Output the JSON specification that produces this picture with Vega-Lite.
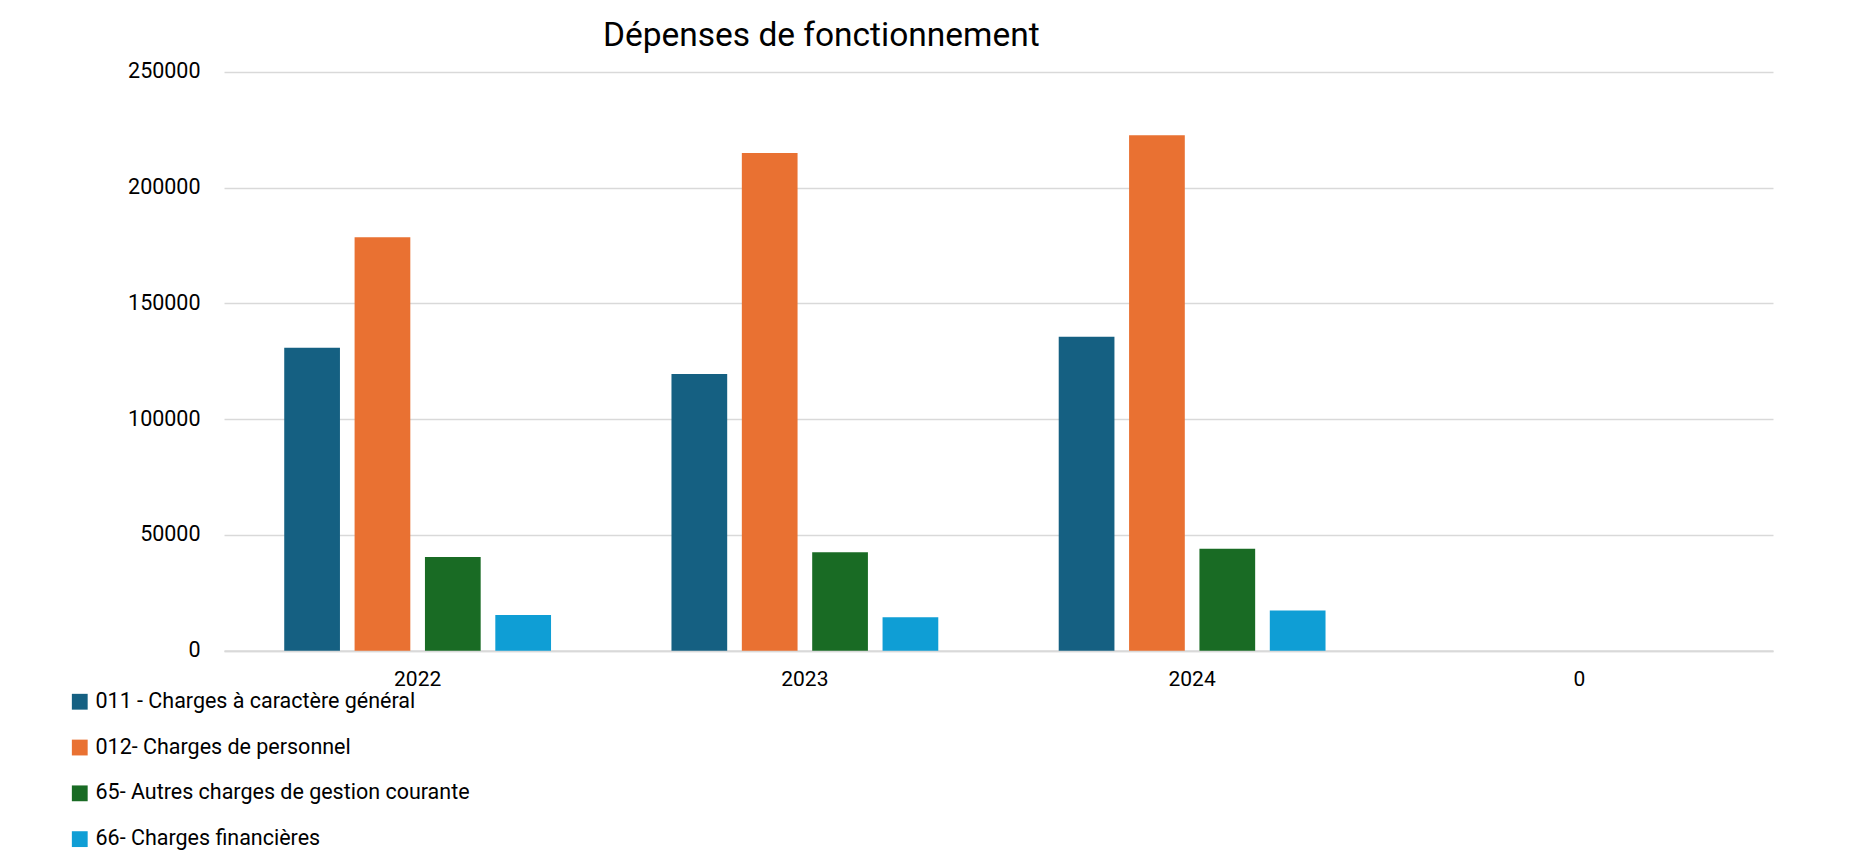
{
  "$schema": "https://vega.github.io/schema/vega-lite/v6.json",
  "autosize": "none",
  "width": 1549,
  "height": 578.7,
  "padding": {"left": 224, "top": 72, "right": 84, "bottom": 205},
  "background": "#ffffff",
  "title": {
    "text": "Dépenses de fonctionnement",
    "anchor": "start",
    "frame": "group",
    "dx": 379,
    "dy": 46,
    "offset": 27,
    "baseline": "alphabetic",
    "font": "Roboto",
    "fontSize": 33.5,
    "fontWeight": "normal",
    "color": "#000000"
  },
  "data": {
    "values": [
      {"annee": "2022", "chapitre": "011 - Charges à caractère général", "montant": 130900},
      {"annee": "2022", "chapitre": "012- Charges de personnel", "montant": 178600},
      {"annee": "2022", "chapitre": "65- Autres charges de gestion courante", "montant": 40500},
      {"annee": "2022", "chapitre": "66- Charges financières", "montant": 15400},
      {"annee": "2023", "chapitre": "011 - Charges à caractère général", "montant": 119500},
      {"annee": "2023", "chapitre": "012- Charges de personnel", "montant": 215000},
      {"annee": "2023", "chapitre": "65- Autres charges de gestion courante", "montant": 42500},
      {"annee": "2023", "chapitre": "66- Charges financières", "montant": 14400},
      {"annee": "2024", "chapitre": "011 - Charges à caractère général", "montant": 135600},
      {"annee": "2024", "chapitre": "012- Charges de personnel", "montant": 222700},
      {"annee": "2024", "chapitre": "65- Autres charges de gestion courante", "montant": 44000},
      {"annee": "2024", "chapitre": "66- Charges financières", "montant": 17400}
    ]
  },
  "mark": {"type": "bar"},
  "encoding": {
    "x": {
      "field": "annee",
      "type": "nominal",
      "sort": null,
      "scale": {"domain": ["2022", "2023", "2024", "0"], "paddingInner": 0.311, "paddingOuter": 0.1555},
      "axis": {
        "title": null,
        "labelAngle": 0,
        "labelFont": "Roboto",
        "labelFontSize": 21,
        "labelColor": "#000000",
        "labelPadding": 18,
        "ticks": false,
        "domainColor": "#d9d9d9",
        "domainWidth": 2,
        "grid": false
      }
    },
    "xOffset": {
      "field": "chapitre",
      "type": "nominal",
      "sort": null,
      "scale": {"paddingInner": 0.208, "paddingOuter": 0}
    },
    "y": {
      "field": "montant",
      "type": "quantitative",
      "scale": {"domain": [0, 250000], "nice": false},
      "axis": {
        "title": null,
        "values": [0, 50000, 100000, 150000, 200000, 250000],
        "format": "d",
        "labelFont": "Roboto",
        "labelFontSize": 21.5,
        "labelColor": "#000000",
        "labelPadding": 24,
        "ticks": false,
        "domain": false,
        "grid": true,
        "gridColor": "#d9d9d9",
        "gridWidth": 1.5
      }
    },
    "color": {
      "field": "chapitre",
      "type": "nominal",
      "sort": null,
      "scale": {
        "domain": ["011 - Charges à caractère général", "012- Charges de personnel", "65- Autres charges de gestion courante", "66- Charges financières"],
        "range": ["#156082", "#E97132", "#196B24", "#0F9ED5"]
      },
      "legend": {
        "title": null,
        "orient": "none",
        "legendX": -155,
        "legendY": 619,
        "direction": "vertical",
        "padding": 0,
        "symbolType": "square",
        "symbolSize": 250,
        "symbolStrokeWidth": 0,
        "labelFont": "Roboto",
        "labelFontSize": 21.5,
        "labelColor": "#000000",
        "labelOffset": 5,
        "rowPadding": 22.8,
        "labelLimit": 600
      }
    }
  },
  "config": {
    "view": {"stroke": null}
  }
}
